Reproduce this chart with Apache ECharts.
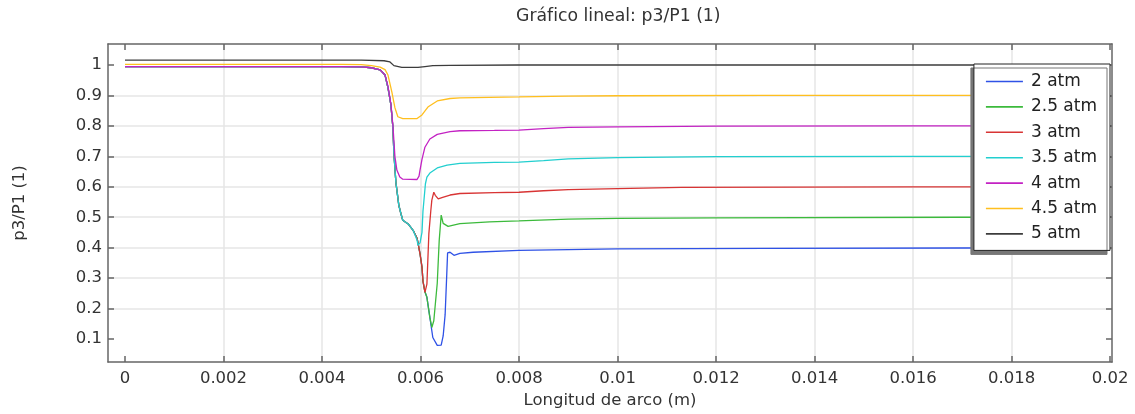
<!DOCTYPE html>
<html lang="es">
<head>
  <meta charset="UTF-8">
  <title>Gráfico lineal: p3/P1 (1)</title>
  <script src="https://cdn.jsdelivr.net/npm/echarts@6/dist/echarts.min.js"></script>
  <style>
    html, body { margin: 0; padding: 0; background: #fff; }
  </style>
</head>
<body>
<div id="main" style="width:1135px;height:414px;"></div>
<script type="text/javascript">
  // tick positions on the axes
  var xTicks = [0, 0.002, 0.004, 0.006, 0.008, 0.01, 0.012, 0.014, 0.016, 0.018, 0.02];
  var yTicks = [0.1, 0.2, 0.3, 0.4, 0.5, 0.6, 0.7, 0.8, 0.9, 1];

  var names = ['2 atm', '2.5 atm', '3 atm', '3.5 atm', '4 atm', '4.5 atm', '5 atm'];
  var colors = ['#2f52e6', '#3cba3c', '#d83434', '#22cfcf', '#c322c3', '#ffbf1f', '#3c3c3c'];

  // [arc length (m), p3/P1]
  var p2 = [[0,0.995],[0.0044,0.995],[0.0048,0.994],[0.005,0.991],[0.00518,0.984],[0.00528,0.967],[0.00534,0.925],
    [0.0054,0.868],[0.00544,0.793],[0.00546,0.71],[0.0055,0.615],[0.00556,0.539],[0.0056,0.513],[0.00564,0.49],
    [0.00575,0.478],[0.00585,0.457],[0.00593,0.431],[0.00595,0.415],[0.00599,0.38],[0.00603,0.336],[0.00605,0.29],
    [0.00609,0.255],[0.00613,0.237],[0.00619,0.171],[0.00625,0.105],[0.00634,0.079],[0.00638,0.074],[0.00642,0.08],
    [0.00646,0.11],[0.0065,0.18],[0.00653,0.3],[0.00655,0.383],[0.0066,0.385],[0.00664,0.38],[0.00668,0.375],
    [0.0068,0.381],[0.00707,0.385],[0.008,0.391],[0.01,0.396],[0.013,0.398],[0.017,0.399],[0.02,0.4]];
  var p25 = [[0,0.995],[0.0044,0.995],[0.0048,0.994],[0.005,0.991],[0.00518,0.984],[0.00528,0.967],[0.00534,0.925],
    [0.0054,0.868],[0.00544,0.793],[0.00546,0.71],[0.0055,0.615],[0.00556,0.539],[0.0056,0.513],[0.00564,0.49],
    [0.00575,0.478],[0.00585,0.457],[0.00593,0.431],[0.00595,0.415],[0.00599,0.38],[0.00603,0.336],[0.00605,0.29],
    [0.00609,0.255],[0.00613,0.237],[0.00619,0.171],[0.00623,0.138],[0.00627,0.16],[0.00634,0.283],[0.00638,0.424],
    [0.00642,0.507],[0.00646,0.48],[0.0065,0.474],[0.00656,0.47],[0.0068,0.479],[0.0074,0.485],[0.008,0.488],
    [0.009,0.494],[0.01,0.496],[0.012,0.498],[0.017,0.5],[0.02,0.5]];
  var p3 = [[0,0.995],[0.0044,0.995],[0.0048,0.994],[0.005,0.991],[0.00518,0.984],[0.00528,0.967],[0.00534,0.925],
    [0.0054,0.868],[0.00544,0.793],[0.00546,0.71],[0.0055,0.615],[0.00556,0.539],[0.0056,0.513],[0.00564,0.49],
    [0.00575,0.478],[0.00585,0.457],[0.00593,0.431],[0.00595,0.415],[0.00599,0.38],[0.00603,0.336],[0.00605,0.29],
    [0.00609,0.253],[0.00613,0.28],[0.00617,0.447],[0.00621,0.523],[0.00623,0.556],[0.00627,0.582],[0.0063,0.572],
    [0.00636,0.56],[0.00645,0.565],[0.0066,0.573],[0.0068,0.578],[0.0075,0.581],[0.008,0.582],[0.0085,0.587],
    [0.009,0.591],[0.01,0.594],[0.0113,0.598],[0.016,0.6],[0.02,0.6]];
  var p35 = [[0,0.995],[0.0044,0.995],[0.0048,0.994],[0.005,0.991],[0.00518,0.984],[0.00528,0.967],[0.00534,0.925],
    [0.0054,0.868],[0.00544,0.793],[0.00546,0.71],[0.0055,0.615],[0.00556,0.539],[0.0056,0.513],[0.00564,0.49],
    [0.00575,0.478],[0.00585,0.457],[0.00593,0.425],[0.00595,0.408],[0.00599,0.416],[0.00603,0.45],[0.00605,0.52],
    [0.00607,0.556],[0.0061,0.61],[0.00613,0.632],[0.00619,0.645],[0.00634,0.662],[0.00654,0.671],[0.0068,0.677],
    [0.0075,0.68],[0.008,0.681],[0.0085,0.686],[0.009,0.692],[0.01,0.696],[0.012,0.699],[0.016,0.7],[0.02,0.7]];
  var p4 = [[0,0.995],[0.0044,0.995],[0.0048,0.994],[0.005,0.991],[0.00518,0.984],[0.00528,0.967],[0.00534,0.93],
    [0.0054,0.87],[0.00544,0.8],[0.00548,0.7],[0.00552,0.655],[0.00558,0.632],[0.00564,0.625],[0.00593,0.624],
    [0.00597,0.635],[0.00599,0.655],[0.00603,0.69],[0.00609,0.73],[0.00619,0.757],[0.00634,0.772],[0.0066,0.781],
    [0.0068,0.784],[0.0075,0.785],[0.008,0.786],[0.0085,0.791],[0.009,0.795],[0.01,0.797],[0.012,0.799],
    [0.016,0.8],[0.02,0.8]];
  var p45 = [[0,1.002],[0.0044,1.002],[0.0048,1.001],[0.005,0.998],[0.00518,0.993],[0.00528,0.985],[0.00534,0.967],
    [0.00542,0.91],[0.00548,0.86],[0.00554,0.83],[0.00564,0.824],[0.00593,0.824],[0.00603,0.836],[0.00615,0.862],
    [0.00634,0.882],[0.0066,0.89],[0.0068,0.892],[0.008,0.895],[0.009,0.898],[0.01,0.899],[0.013,0.9],[0.02,0.9]];
  var p5 = [[0,1.016],[0.0048,1.016],[0.00526,1.014],[0.00538,1.01],[0.00546,0.998],[0.00562,0.992],[0.00595,0.992],
    [0.00609,0.995],[0.00625,0.998],[0.0066,0.999],[0.008,1.0],[0.02,1.0]];

  var seriesData = [p2, p25, p3, p35, p4, p45, p5];

  var font = 'DejaVu Sans';
  var axisColor = '#666';
  var textColor = '#333';

  var chartDom = document.getElementById('main');
  var myChart = echarts.init(chartDom, null, { renderer: 'canvas' });
  var option;

  function xFmt(v) { return String(+v.toFixed(3)); }
  function yFmt(v) { return String(+v.toFixed(1)); }

  var xCommon = { type: 'value', min: -0.000345, max: 0.02004 };
  var yCommon = { type: 'value', min: 0.0245, max: 1.069 };
  var lineOpt = { show: true, onZero: false, lineStyle: { color: axisColor, width: 1.5 } };

  option = {
    animation: false,
    backgroundColor: '#fff',
    color: colors,
    textStyle: { fontFamily: font },
    title: {
      text: 'Gráfico lineal: p3/P1 (1)',
      left: 516,
      top: 8,
      padding: 0,
      textStyle: { fontFamily: font, fontSize: 17.3, fontWeight: 'normal', color: textColor }
    },
    grid: { left: 108, right: 23, top: 44, bottom: 52, containLabel: false },
    legend: {
      orient: 'vertical',
      right: 25,
      top: 64,
      padding: [9, 13, 8, 12],
      itemGap: 8.4,
      icon: 'rect',
      itemWidth: 37,
      itemHeight: 1.6,
      backgroundColor: '#fff',
      borderColor: '#222',
      borderWidth: 1,
      borderRadius: 0,
      shadowColor: '#777',
      shadowBlur: 0,
      shadowOffsetX: -3,
      shadowOffsetY: 4,
      textStyle: { fontFamily: font, fontSize: 17, color: '#222', padding: [0, 0, 0, 3] },
      data: names
    },
    xAxis: [
      Object.assign({}, xCommon, {
        position: 'bottom',
        name: 'Longitud de arco (m)',
        nameLocation: 'middle',
        nameGap: 28,
        nameTextStyle: { fontFamily: font, fontSize: 16.5, color: textColor },
        axisLine: lineOpt,
        axisTick: { show: true, inside: true, length: 6, customValues: xTicks, lineStyle: { color: axisColor, width: 1.5 } },
        axisLabel: { customValues: xTicks, formatter: xFmt, margin: 8, fontFamily: font, fontSize: 16.5, color: textColor },
        splitLine: { show: true, showMinLine: false, showMaxLine: false, lineStyle: { color: '#e6e6e6', width: 1.5 } }
      }),
      Object.assign({}, xCommon, {
        position: 'top',
        axisLine: lineOpt,
        axisTick: { show: true, inside: true, length: 6, customValues: xTicks, lineStyle: { color: axisColor, width: 1.5 } },
        axisLabel: { show: false },
        splitLine: { show: false }
      })
    ],
    yAxis: [
      Object.assign({}, yCommon, {
        position: 'left',
        name: 'p3/P1 (1)',
        nameLocation: 'middle',
        nameGap: 80,
        nameRotate: 90,
        nameTextStyle: { fontFamily: font, fontSize: 16.5, color: textColor },
        axisLine: lineOpt,
        axisTick: { show: true, inside: true, length: 6, customValues: yTicks, lineStyle: { color: axisColor, width: 1.5 } },
        axisLabel: { customValues: yTicks, formatter: yFmt, margin: 6, fontFamily: font, fontSize: 16.5, color: textColor },
        splitLine: { show: true, showMinLine: false, showMaxLine: false, lineStyle: { color: '#e6e6e6', width: 1.5 } }
      }),
      Object.assign({}, yCommon, {
        position: 'right',
        axisLine: lineOpt,
        axisTick: { show: true, inside: true, length: 6, customValues: yTicks, lineStyle: { color: axisColor, width: 1.5 } },
        axisLabel: { show: false },
        splitLine: { show: false }
      })
    ],
    series: names.map(function (n, i) {
      return {
        name: n,
        type: 'line',
        xAxisIndex: 0,
        yAxisIndex: 0,
        symbol: 'none',
        lineStyle: { width: 1.3, color: colors[i] },
        itemStyle: { color: colors[i] },
        data: seriesData[i]
      };
    })
  };

  option && myChart.setOption(option);
</script>
</body>
</html>
